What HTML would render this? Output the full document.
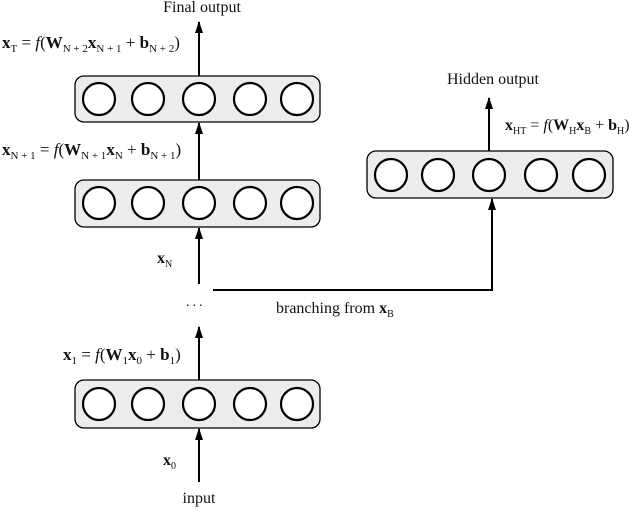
<!DOCTYPE html>
<html><head><style>
body{margin:0;background:#fff;}
svg text{font-family:"Liberation Serif",serif;fill:#111;}
</style></head><body>
<svg width="640" height="508" viewBox="0 0 640 508" xmlns="http://www.w3.org/2000/svg">
<defs><marker id="a" markerWidth="12" markerHeight="8" refX="11" refY="4" orient="auto" markerUnits="userSpaceOnUse">
<path d="M0,0 L12,4 L0,8 Z" fill="#000"/></marker></defs>
<g stroke="#000" stroke-width="1.3" fill="#ececec">
<rect x="75" y="76" width="245" height="46" rx="9"/>
<rect x="75" y="180" width="245" height="47" rx="9"/>
<rect x="75" y="380" width="245" height="48" rx="9"/>
<rect x="367" y="151" width="246" height="47" rx="9"/>
</g>
<g stroke="#000" stroke-width="2.2" fill="#fff">
<circle cx="99" cy="99" r="16"/><circle cx="148" cy="99" r="16"/><circle cx="199" cy="99" r="16"/><circle cx="250" cy="99" r="16"/><circle cx="297" cy="99" r="16"/>
<circle cx="99" cy="203" r="16"/><circle cx="148" cy="203" r="16"/><circle cx="199" cy="203" r="16"/><circle cx="250" cy="203" r="16"/><circle cx="297" cy="203" r="16"/>
<circle cx="99" cy="404" r="16"/><circle cx="148" cy="404" r="16"/><circle cx="199" cy="404" r="16"/><circle cx="250" cy="404" r="16"/><circle cx="297" cy="404" r="16"/>
<circle cx="391" cy="175" r="16"/><circle cx="438" cy="175" r="16"/><circle cx="489" cy="175" r="16"/><circle cx="541" cy="175" r="16"/><circle cx="589" cy="175" r="16"/>
</g>
<g stroke="#000" stroke-width="2" fill="none">
<line x1="199" y1="76" x2="199" y2="22" marker-end="url(#a)"/>
<line x1="199" y1="180" x2="199" y2="123" marker-end="url(#a)"/>
<line x1="199" y1="284" x2="199" y2="228" marker-end="url(#a)"/>
<line x1="199" y1="380" x2="199" y2="327" marker-end="url(#a)"/>
<line x1="199" y1="482" x2="199" y2="429" marker-end="url(#a)"/>
<line x1="489" y1="151" x2="489" y2="98" marker-end="url(#a)"/>
<polyline points="213,290 492,290 492,199" marker-end="url(#a)"/>
</g>
<g font-size="16">
<text x="202" y="12" text-anchor="middle">Final output</text>
<text x="493" y="84" text-anchor="middle">Hidden output</text>
<text x="199" y="503" text-anchor="middle">input</text>
<text x="276" y="313">branching from <tspan font-weight="bold">x</tspan><tspan font-size="10" dy="4">B</tspan></text>
<text x="186" y="306" font-size="14" letter-spacing="3">...</text>
<text x="157" y="263" font-weight="bold">x<tspan font-size="10" dy="4" font-weight="normal">N</tspan></text>
<text x="163" y="465" font-weight="bold">x<tspan font-size="10" dy="4" font-weight="normal">0</tspan></text>
<text x="2" y="48" font-size="17"><tspan font-weight="bold">x</tspan><tspan font-size="11" dy="4">T</tspan><tspan dy="-4"> = </tspan><tspan font-style="italic">f</tspan>(<tspan font-weight="bold">W</tspan><tspan font-size="11" dy="4">N + 2</tspan><tspan font-weight="bold" dy="-4">x</tspan><tspan font-size="11" dy="4">N + 1</tspan><tspan dy="-4"> + </tspan><tspan font-weight="bold">b</tspan><tspan font-size="11" dy="4">N + 2</tspan><tspan dy="-4">)</tspan></text>
<text x="2" y="155" font-size="17"><tspan font-weight="bold">x</tspan><tspan font-size="11" dy="4">N + 1</tspan><tspan dy="-4"> = </tspan><tspan font-style="italic">f</tspan>(<tspan font-weight="bold">W</tspan><tspan font-size="11" dy="4">N + 1</tspan><tspan font-weight="bold" dy="-4">x</tspan><tspan font-size="11" dy="4">N</tspan><tspan dy="-4"> + </tspan><tspan font-weight="bold">b</tspan><tspan font-size="11" dy="4">N + 1</tspan><tspan dy="-4">)</tspan></text>
<text x="63" y="360" font-size="17"><tspan font-weight="bold">x</tspan><tspan font-size="11" dy="4">1</tspan><tspan dy="-4"> = </tspan><tspan font-style="italic">f</tspan>(<tspan font-weight="bold">W</tspan><tspan font-size="11" dy="4">1</tspan><tspan font-weight="bold" dy="-4">x</tspan><tspan font-size="11" dy="4">0</tspan><tspan dy="-4"> + </tspan><tspan font-weight="bold">b</tspan><tspan font-size="11" dy="4">1</tspan><tspan dy="-4">)</tspan></text>
<text x="505" y="130" font-size="16"><tspan font-weight="bold">x</tspan><tspan font-size="10" dy="4">HT</tspan><tspan dy="-4"> = </tspan><tspan font-style="italic">f</tspan>(<tspan font-weight="bold">W</tspan><tspan font-size="10" dy="4">H</tspan><tspan font-weight="bold" dy="-4">x</tspan><tspan font-size="10" dy="4">B</tspan><tspan dy="-4"> + </tspan><tspan font-weight="bold">b</tspan><tspan font-size="10" dy="4">H</tspan><tspan dy="-4">)</tspan></text>
</g>
</svg>
</body></html>
